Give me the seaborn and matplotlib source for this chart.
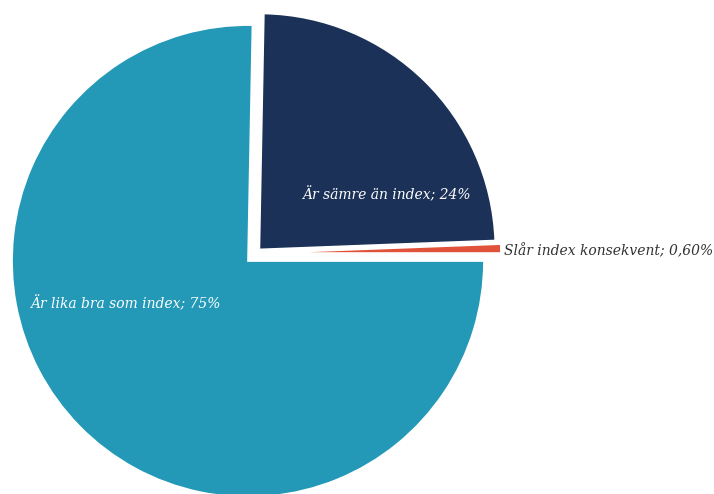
import matplotlib
matplotlib.use("Agg")
import matplotlib.pyplot as plt
import numpy as np
import seaborn as sns

# Andel fonder jämfört med index (procent)
categories = ["Slår index konsekvent", "Är sämre än index", "Är lika bra som index"]
values = [0.6, 24, 75]
colors = ["#e0533a", "#1b3158", "#2399b7"]
text_colors = ["#333333", "white", "white"]

sns.set_theme(style="white")
plt.rcParams["font.family"] = ["DejaVu Serif", "Liberation Serif"]


def fmt_pct(v):
    s = f"{v:.2f}" if v < 1 else f"{v:.0f}"
    return s.replace(".", ",") + "%"


labels = [f"{c}; {fmt_pct(v)}" for c, v in zip(categories, values)]

fig = plt.figure(figsize=(7.14, 4.94), dpi=100)
ax = fig.add_axes([0, 0, 1, 1])

# the navy slice is pulled out from the rest of the pie
explode = [0.0, 0.069, 0.0]
wedges, _ = ax.pie(
    values,
    colors=colors,
    explode=explode,
    startangle=0,
    counterclock=True,
    radius=1.0,
    wedgeprops=dict(edgecolor="white", linewidth=1.2),
)

# the thin red sliver follows the navy slice outward
wedges[0].set_center((0.072, 0.034))

ax.set_aspect("equal")
ax.set_xlim(-1.051, 1.975)
ax.set_ylim(-0.987, 1.106)
ax.axis("off")

# slice labels
label_style = dict(fontsize=10, style="italic", va="center")
ax.text(0.585, 0.280, labels[1], color=text_colors[1], ha="center", **label_style)
ax.text(1.085, 0.042, labels[0], color=text_colors[0], ha="left", **label_style)
ax.text(-0.924, -0.178, labels[2], color=text_colors[2], ha="left", **label_style)

fig.savefig("out.png", dpi=100, facecolor="white")
